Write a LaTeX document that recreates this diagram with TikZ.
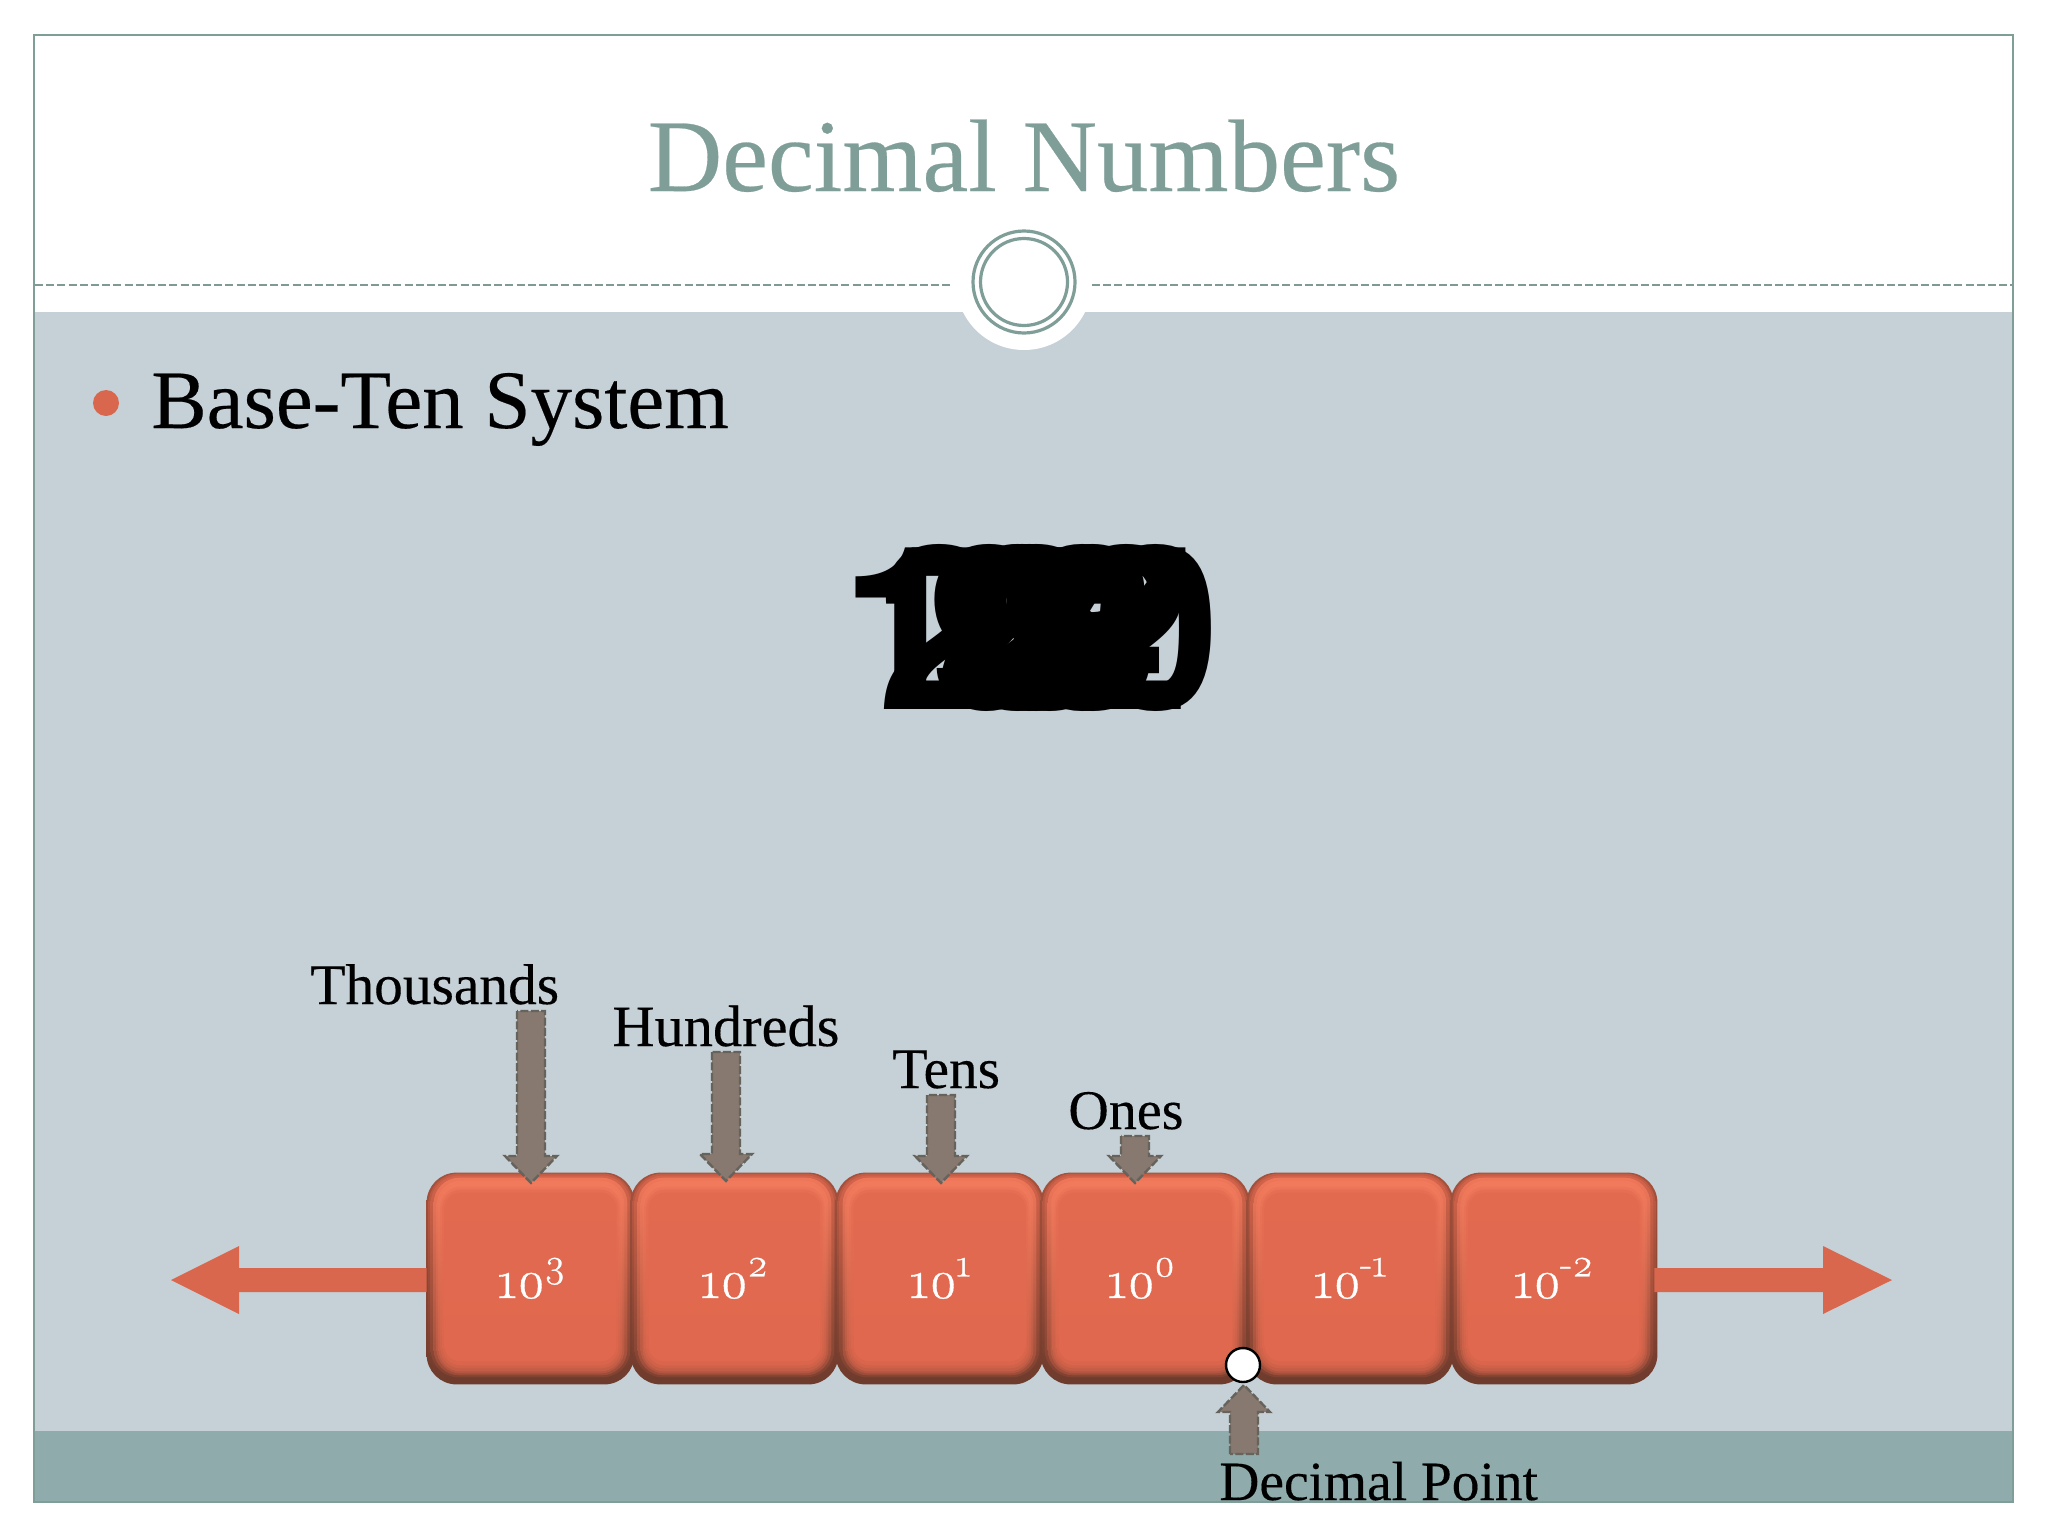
\documentclass[tikz,border=0pt]{standalone}
\usepackage{fontspec}
\usetikzlibrary{calc}
\setmainfont[FakeBold=0.25]{Liberation Serif}
\newfontfamily\numfont[Numbers=OldStyle,FakeBold=0.7]{Latin Modern Roman}
\newfontfamily\bigfont{TeX Gyre Heros}
\definecolor{frameC}{HTML}{7F9E98}
\definecolor{bodyC}{HTML}{C5D1D7}
\definecolor{bandC}{HTML}{8FABAB}
\definecolor{accC}{HTML}{D9674E}
\definecolor{faceC}{HTML}{E0684E}
\definecolor{hiC}{HTML}{F27A5C}
\definecolor{rimC}{HTML}{6E3B2C}
\definecolor{arrC}{HTML}{87796F}
\definecolor{arrL}{HTML}{66625C}
\tikzset{
  x=0.5pt,y=-0.5pt,
  lbl/.style={anchor=base west,inner sep=0pt,font=\fontsize{28.7}{30}\selectfont,text=black},
  boxtxt/.style={anchor=base west,inner sep=0pt,text=white,font=\fontsize{27}{28}\selectfont\numfont},
  blk/.style={fill=arrC,draw=arrL,line width=1.2pt,dash pattern=on 4pt off 1.2pt},
  red/.style={fill=accC,draw=none},
  dig/.style={anchor=base west,inner sep=0pt,font=\fontsize{114}{115}\selectfont\bigfont\bfseries,text=black},
  brick/.style={draw=none,minimum height=105.5pt,inner sep=0pt},
}
\newcommand{\vblock}[3]{% tail, tip, direction (1 down, -1 up)
  \path[blk] ($(#1)+(-14,0)$) -- ($(#2)+(-14,-27*#3)$) -- ($(#2)+(-26,-27*#3)$) -- (#2)
    -- ($(#2)+(26,-27*#3)$) -- ($(#2)+(14,-27*#3)$) -- ($(#1)+(14,0)$) -- cycle;}
% one bevel layer: box, side inset, top inset, bottom inset, top colour, bottom colour, radius
\newcommand{\bev}[7]{\path[top color=#5,bottom color=#6,rounded corners=#7pt]
    ($(#1.north west)+(#2,#3)$) rectangle ($(#1.south east)+(-#2,-#4)$);}
\newcommand{\boxsup}[1]{\kern-.6pt\raisebox{.40em}{\fontsize{20}{20}\selectfont #1}}
\newcommand{\brick}[3]{% name, left, right
  \node[brick,minimum width={(#3-#2)*0.5pt}] (#1) at ({(#2+#3)/2},1278.5) {};
  \bev{#1}{0}{0}{0}{faceC!50!rimC}{rimC}{15}
  \bev{#1}{2}{1}{4}{faceC!75!rimC}{rimC}{15}
  \bev{#1}{4}{3}{7}{faceC!90!rimC}{rimC!85!faceC}{14}
  \bev{#1}{7}{5}{9}{hiC!80!faceC}{rimC!60!faceC}{13}
  \bev{#1}{10}{8}{11}{hiC}{rimC!40!faceC}{12}
  \bev{#1}{12}{11}{13}{hiC}{rimC!25!faceC}{11}
  \bev{#1}{14}{14}{16}{hiC!70!faceC}{rimC!15!faceC}{10}
  \bev{#1}{16}{17}{19}{hiC!35!faceC}{rimC!7!faceC}{9}
  \bev{#1}{18}{20}{23}{hiC!10!faceC}{faceC}{8}
}
\begin{document}
\begin{tikzpicture}
\useasboundingbox (0,0) rectangle (2048,1536);
\fill[white] (0,0) rectangle (2048,1536);
% body
\fill[bodyC] (34,312) rectangle (2013,1431);
\fill[bandC] (34,1431) rectangle (2013,1502);
\fill[white] (1024,282) circle (68);
\fill[white] (956,282) rectangle (1092,312);
\draw[frameC,line width=1.2pt] (34,35) rectangle (2013,1502);
\draw[frameC!85!gray,line width=1.2pt,dash pattern=on 4pt off 1.6pt] (35,285) -- (953,285);
\draw[frameC!85!gray,line width=1.2pt,dash pattern=on 4pt off 1.6pt] (1092,285) -- (2012,285);
\node[draw=frameC,line width=1.6pt,fill=white,circle,minimum size=51pt,inner sep=0pt] (ornO) at (1024,282) {};
\node[draw=frameC,line width=1.6pt,circle,minimum size=43.5pt,inner sep=0pt] (ornI) at (1024,282) {};
% title
\node[anchor=base,inner sep=0pt,text=frameC,font=\fontsize{51.5}{54}\selectfont] (title) at (1024,191) {Decimal Numbers};
% bullet
\node[circle,fill=accC,minimum size=13pt,inner sep=0pt] (bul) at (106,403) {};
\node[anchor=base west,inner sep=0pt,font=\fontsize{41.5}{44}\selectfont] (sys) at (151,428) {Base-Ten System};
% big digits
\foreach \n/\d/\p in {a/100/840,b/2/877,c/2/960,d/2/1064,e/7/905,f/7/985,g/7/1065,h/9/928,i/8/955,j/8/1030,k/5/990,m/3/975,n/0/1020,o/4/1040}{
  \node[dig] (dig\n) at (\p,709) {\d};
}
% horizontal red arrows
\brick{b1}{427}{634}
\coordinate (tipL) at (171,1280);
\coordinate (tipR) at (1892,1280);
\path[red] (b1.west |- tipL) ++(0,-12) -- (239,1268) -- (239,1246) -- (tipL) -- (239,1314) -- (239,1292) -- ($(b1.west |- tipL)+(0,12)$) -- cycle;
\brick{b2}{631}{838}
\brick{b3}{836}{1043}
\brick{b4}{1041}{1249}
\brick{b5}{1247}{1453}
\brick{b6}{1451}{1657}
\path[red] ($(b6.east |- tipR)+(-3,-12)$) -- (1823,1268) -- (1823,1246) -- (tipR) -- (1823,1314) -- (1823,1292) -- ($(b6.east |- tipR)+(-3,12)$) -- cycle;
% box labels
\node[boxtxt] (t1) at (497,1298) {10\boxsup{3}};
\node[boxtxt] (t2) at (700,1298) {10\boxsup{2}};
\node[boxtxt] (t3) at (909,1298) {10\boxsup{1}};
\node[boxtxt] (t4) at (1107,1298) {10\boxsup{0}};
\node[boxtxt] (t5) at (1313,1298) {10\boxsup{-1}};
\node[boxtxt] (t6) at (1513,1298) {10\boxsup{-2}};
% labels
\node[lbl] (lth) at (310,1004) {Thousands};
\node[lbl] (lhu) at (612,1046) {\fontsize{29.2}{30}\selectfont Hundreds};
\node[lbl] (lte) at (892,1088) {Tens};
\node[lbl] (lon) at (1068,1129) {\fontsize{28}{30}\selectfont Ones};
\node[lbl] (ldp) at (1219,1500) {\fontsize{27.7}{30}\selectfont Decimal Point};
% block arrows
\coordinate (a1) at (531,1011); \coordinate (a1t) at (531,1183);
\coordinate (a2) at (726,1052); \coordinate (a2t) at (726,1181);
\coordinate (a3) at (941,1095); \coordinate (a3t) at (941,1183);
\coordinate (a4) at (1135,1136); \coordinate (a4t) at (1135,1183);
\coordinate (a5) at (1244,1454); \coordinate (a5t) at (1244,1385);
\vblock{a1}{a1t}{1}
\vblock{a2}{a2t}{1}
\vblock{a3}{a3t}{1}
\vblock{a4}{a4t}{1}
\vblock{a5}{a5t}{-1}
% decimal point
\node[circle,fill=white,draw=black,line width=1.2pt,minimum size=17pt,inner sep=0pt] (dp) at (1243,1365) {};
\end{tikzpicture}
\end{document}
